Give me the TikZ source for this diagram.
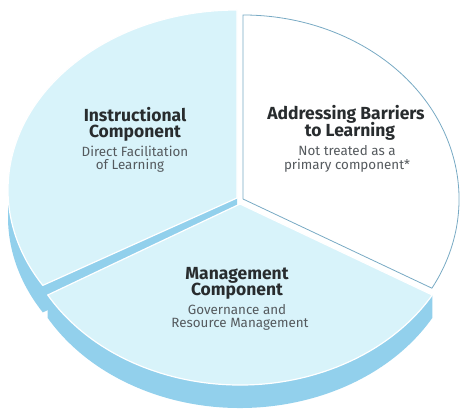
\documentclass[tikz,border=0pt]{standalone}
\usepackage{fontspec}
\setmainfont{Fira Sans}
\usetikzlibrary{calc}
\definecolor{face}{RGB}{216,243,250}
\definecolor{rim}{RGB}{146,208,236}
\definecolor{edgeblue}{RGB}{120,170,196}
\definecolor{ttl}{RGB}{40,44,46}
\definecolor{subc}{RGB}{85,90,94}
\tikzset{
  facestyle/.style={fill=face, draw=white, line width=1.2pt, line join=round},
  rimstyle/.style={fill=rim},
  whitestyle/.style={fill=white, draw=edgeblue, line width=0.8pt, line join=round},
  ttlstyle/.style={anchor=base, inner sep=0pt, text=ttl, font=\bfseries\fontsize{17.5}{19}\selectfont},
  substyle/.style={anchor=base, inner sep=0pt, text=subc, font=\fontsize{13.4}{15}\selectfont}
}
\begin{document}
\begin{tikzpicture}[x=1pt,y=1pt]
\useasboundingbox (0,0) rectangle (460,409);
% centres
\coordinate (C1) at (237,219);
\coordinate (V1) at (237,211);
\coordinate (C2) at (240,204);
\coordinate (V2) at (240,205);
\coordinate (C3) at (243,210);
% corner points
\coordinate (I0) at ($(C1)+(90:229 and 180)$);
\coordinate (IL) at ($(C1)+(180:229 and 180)$);
\coordinate (I2) at ($(C1)+(212:229 and 180)$);
\coordinate (M1) at ($(C2)+(210:222 and 180)$);
\coordinate (M2) at ($(C2)+(330:222 and 180)$);
\coordinate (W0) at ($(C3)+(-29:216 and 184)$);
% instructional sector: rim and cut side
\fill[rimstyle] (IL) arc[start angle=180, end angle=212, x radius=229, y radius=180]
  -- ++(0,-27) arc[start angle=212, end angle=180, x radius=229, y radius=180] -- cycle;
\fill[rimstyle] (V1) -- (I2) -- ++(0,-27) -- ($(V1)+(0,-27)$) -- cycle;
\path[facestyle] (V1) -- (I0) arc[start angle=90, end angle=212, x radius=229, y radius=180] -- cycle;
% management sector
\fill[rimstyle] (M1) arc[start angle=210, end angle=330, x radius=222, y radius=180]
  -- ++(0,-23) arc[start angle=330, end angle=210, x radius=222, y radius=180] -- cycle;
\path[facestyle] (V2) -- (M1) arc[start angle=210, end angle=330, x radius=222, y radius=180] -- cycle;
% addressing barriers sector
\path[whitestyle] (C3) -- (W0) arc[start angle=-29, end angle=90, x radius=216, y radius=184] -- cycle;
% texts
\node[ttlstyle] (i1) at (135,287) {Instructional};
\node[ttlstyle] (i2) at (135,271) {Component};
\node[substyle] (i3) at (135,252) {Direct Facilitation};
\node[substyle] (i4) at (130,239) {of Learning};
\node[ttlstyle] (a1) at (346,289) {Addressing Barriers};
\node[ttlstyle] (a2) at (350,272) {to Learning};
\node[substyle] (a3) at (347,253) {Not treated as a};
\node[substyle] (a4) at (347,239) {primary component*};
\node[ttlstyle] (m1) at (237,129) {Management};
\node[ttlstyle] (m2) at (237,113) {Component};
\node[substyle] (m3) at (237,94) {Governance and};
\node[substyle] (m4) at (240,81) {Resource Management};
\end{tikzpicture}
\end{document}
